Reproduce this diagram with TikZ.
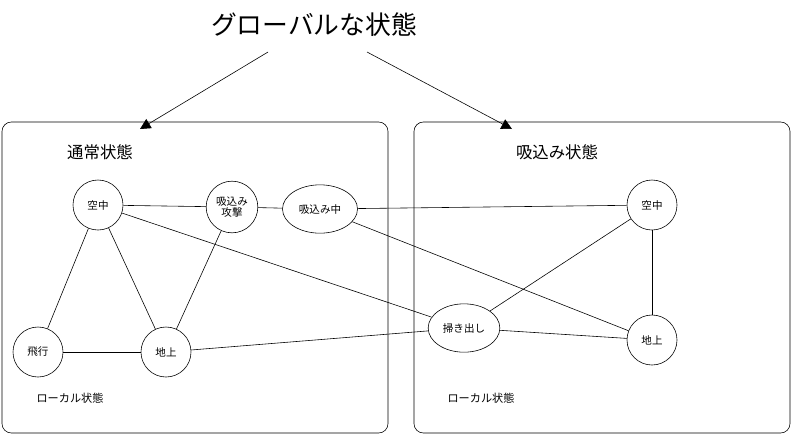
\documentclass[tikz,border=0pt]{standalone}
\usepackage{fontspec}
\setmainfont{Noto Sans CJK JP}
\usetikzlibrary{arrows.meta,shapes.geometric}
\tikzstyle{state} = [draw, circle, minimum size=1.5cm, inner sep=1pt, font=\fontsize{9}{10}\selectfont]
\tikzstyle{estate} = [draw, ellipse, inner sep=1pt, font=\fontsize{9}{10}\selectfont]
\tikzstyle{arrow} = [-{Triangle[length=9pt,width=9pt]}]
\tikzstyle{region} = [draw, rounded corners=8pt]

\begin{document}
\begin{tikzpicture}[x=0.03cm,y=-0.03cm, line width=0.5pt]
			\useasboundingbox (0,0) rectangle (793,435);
			\node(title) at (314,25){\fontsize{22}{24}\selectfont グローバルな状態};
			\coordinate(tl) at (268,52);
			\coordinate(tr) at (367,52);
			\coordinate(hl) at (140,129);
			\coordinate(hr) at (512,129);
			\draw[arrow](tl) -- (hl);
			\draw[arrow](tr) -- (hr);
			
			\draw[region] (2,122) rectangle (388,433);
			\draw[region] (414,122) rectangle (790,433);
			\node(normal) at (100,152){\fontsize{14}{16}\selectfont 通常状態};
			\node(suck) at (557,152){\fontsize{14}{16}\selectfont 吸込み状態};
			\node(locl) at (70,398){\fontsize{9.5}{10}\selectfont ローカル状態};
			\node(locr) at (481,398){\fontsize{9.5}{10}\selectfont ローカル状態};
			
			\node[state](airl) at (98,205){空中};
			\node[state, minimum size=1.55cm, align=center](atk) at (232,207){吸込み\\攻撃};
			\node[estate, minimum width=2.25cm, minimum height=1.45cm](sucking) at (320,209){吸込み中};
			\node[state](fly) at (38,352){飛行};
			\node[state](gndl) at (166,352){地上};
			\node[estate, minimum width=2.15cm, minimum height=1.45cm](spit) at (464,328){掃き出し};
			\node[state](airr) at (652,205){空中};
			\node[state](gndr) at (652,340){地上};
			
			\draw(airl) -- (atk);
			\draw(atk) -- (sucking);
			\draw(sucking) -- (airr);
			\draw(sucking) -- (gndr);
			\draw(airl) -- (fly);
			\draw(airl) -- (gndl);
			\draw(atk) -- (gndl);
			\draw(fly) -- (gndl);
			\draw(airl) -- (spit);
			\draw(gndl) -- (spit);
			\draw(spit) -- (airr);
			\draw(spit) -- (gndr);
			\draw(airr) -- (gndr);
		\end{tikzpicture}
\end{document}
